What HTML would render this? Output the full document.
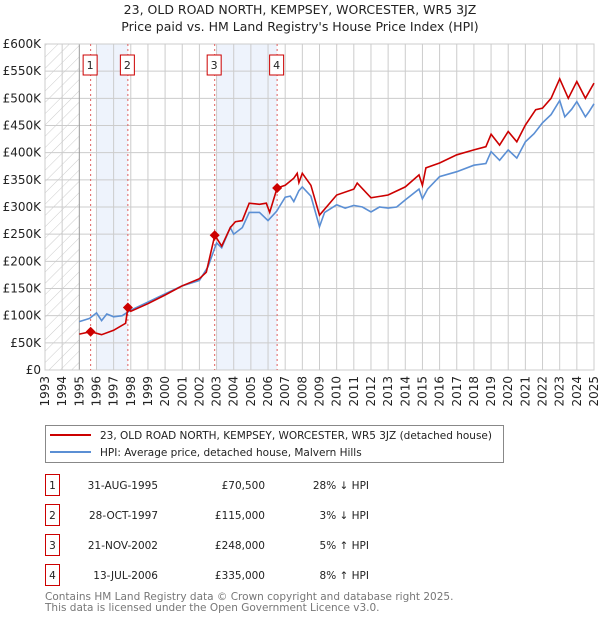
<!DOCTYPE html>
<html><head><meta charset="utf-8"><style>
body{margin:0;background:#fff;font-family:"DejaVu Sans","Liberation Sans",sans-serif;}
svg text{font-family:"DejaVu Sans","Liberation Sans",sans-serif;}
</style></head><body>
<svg id="c" width="600" height="620" xmlns="http://www.w3.org/2000/svg">
<defs><pattern id="hatch" width="8" height="8" patternUnits="userSpaceOnUse" patternTransform="rotate(45)"><line x1="0" y1="0" x2="0" y2="8" stroke="#ccc" stroke-width="1"/></pattern></defs>
<text x="300" y="14" text-anchor="middle" font-size="12.5" fill="#222">23, OLD ROAD NORTH, KEMPSEY, WORCESTER, WR5 3JZ</text>
<text x="300" y="31" text-anchor="middle" font-size="12.5" fill="#222">Price paid vs. HM Land Registry's House Price Index (HPI)</text>
<g id="plot"></g>
<g>
<rect x="45.5" y="425.5" width="458" height="37" fill="#fff" stroke="#888"/>
<line x1="50" y1="435" x2="91" y2="435" stroke="#cc0000" stroke-width="2"/>
<text x="100" y="439" font-size="10.5" fill="#222">23, OLD ROAD NORTH, KEMPSEY, WORCESTER, WR5 3JZ (detached house)</text>
<line x1="50" y1="452" x2="91" y2="452" stroke="#5b8fd4" stroke-width="2"/>
<text x="100" y="456" font-size="10.5" fill="#222">HPI: Average price, detached house, Malvern Hills</text>
</g>
<g id="table" font-size="10.5" fill="#222"></g>
<text x="45" y="600" font-size="10.5" fill="#777">Contains HM Land Registry data © Crown copyright and database right 2025.</text>
<text x="45" y="611" font-size="10.5" fill="#777">This data is licensed under the Open Government Licence v3.0.</text>
</svg>
<script>
const hpiYears=[1995,1995.6,1996,1996.3,1996.6,1997,1997.5,1998,1999,2000,2001,2002,2002.5,2003,2003.3,2003.8,2004,2004.5,2004.9,2005.5,2006,2006.5,2007,2007.3,2007.5,2007.8,2008,2008.5,2009,2009.3,2010,2010.5,2011,2011.5,2012,2012.5,2013,2013.5,2014,2014.8,2015,2015.3,2016,2017,2018,2018.7,2019,2019.5,2020,2020.5,2021,2021.5,2022,2022.5,2023,2023.3,2023.7,2024,2024.5,2024.7,2025];
const hpiValues=[89,95,105,91,103,98,100,110,125,140,155,165,190,234,225,262,250,262,290,290,275,292,318,320,310,330,337,320,264,290,304,298,303,300,291,300,298,300,313,333,315,333,356,365,377,380,402,386,405,390,420,435,455,470,496,466,480,494,466,475,490];
const propYears=[1995,1995.66,1996.3,1997,1997.7,1997.83,1998,1999,2000,2001,2002,2002.4,2002.9,2003.3,2003.8,2004.1,2004.5,2004.9,2005.5,2005.9,2006.1,2006.53,2007,2007.5,2007.7,2007.8,2008,2008.5,2009,2010,2011,2011.2,2012,2013,2014,2014.8,2015,2015.2,2016,2017,2018,2018.7,2019,2019.5,2020,2020.5,2021,2021.6,2022,2022.5,2023,2023.5,2024,2024.5,2025];
const propValues=[66,70.5,65,73,86,115,108,122,138,155,168,180,248,228,262,273,275,307,305,307,290,335,340,353,362,345,362,340,285,322,333,344,317,322,337,359,340,372,381,396,405,411,434,414,439,420,451,479,482,500,536,500,531,500,528];
const saleLabels=["1","2","3","4"];
const saleYears=[1995.66,1997.83,2002.89,2006.53];
const saleValues=[70.5,115,248,335];
const saleDates=["31-AUG-1995","28-OCT-1997","21-NOV-2002","13-JUL-2006"];
const salePrices=["£70,500","£115,000","£248,000","£335,000"];
const saleDiffs=["28% ↓ HPI","3% ↓ HPI","5% ↑ HPI","8% ↑ HPI"];
const yTicks=[0,50,100,150,200,250,300,350,400,450,500,550,600];
const xTicks=[1993,1994,1995,1996,1997,1998,1999,2000,2001,2002,2003,2004,2005,2006,2007,2008,2009,2010,2011,2012,2013,2014,2015,2016,2017,2018,2019,2020,2021,2022,2023,2024,2025];
const X0=45,X1=594,Y0=370,Y1=44;
const xs=y=>X0+(y-1993)/(2025-1993)*(X1-X0);
const ys=v=>Y0-v/600*(Y0-Y1);
const NS="http://www.w3.org/2000/svg";
const plot=document.getElementById('plot');
function mk(tag,attrs,parent){const e=document.createElementNS(NS,tag);for(const k in attrs)e.setAttribute(k,attrs[k]);(parent||plot).appendChild(e);return e;}
let e;
e=mk('rect',{x:xs(1996),y:Y1,width:xs(1997.83)-xs(1996),height:Y0-Y1,fill:'#eef3fc'});


e=mk('rect',{x:xs(2003),y:Y1,width:xs(2006.53)-xs(2003),height:Y0-Y1,fill:'#eef3fc'});


e=mk('rect',{x:X0,y:Y1,width:xs(1995)-X0,height:Y0-Y1,fill:'url(#hatch)'});


yTicks.forEach(v=>{
 const l=mk('line',{x1:X0,x2:X1,y1:ys(v),y2:ys(v),stroke:'#ccc'});
 
 
 const t=mk('text',{x:X0-4,y:ys(v)+4,'text-anchor':'end','font-size':'12',fill:'#222'});
 t.textContent=v===0?'£0':'£'+v+'K';
 
 
});
xTicks.forEach(y=>{
 const l=mk('line',{x1:xs(y),x2:xs(y),y1:Y1,y2:Y0,stroke:y===1995?'#999':'#ccc'});
 
 
 const t=mk('text',{x:0,y:0,'text-anchor':'end','font-size':'12',fill:'#222',transform:`translate(${xs(y)+4},${Y0+6}) rotate(-90)`});
 t.textContent=y;
 
 
});
e=mk('rect',{x:X0,y:Y1,width:X1-X0,height:Y0-Y1,fill:'none',stroke:'#ccc'});


saleYears.forEach((y,i)=>{
 const l=mk('line',{x1:xs(y),x2:xs(y),y1:Y1,y2:Y0,stroke:'#e06060','stroke-dasharray':'2,3'});
 
 
});
const pts=(a,b)=>a.map((y,i)=>xs(y).toFixed(1)+','+ys(b[i]).toFixed(1)).join(' ');
e=mk('polyline',{points:pts(hpiYears,hpiValues),fill:'none',stroke:'#5b8fd4','stroke-width':1.6});


e=mk('polyline',{points:pts(propYears,propValues),fill:'none',stroke:'#cc0000','stroke-width':1.6});


saleYears.forEach((y,i)=>{
 const cx=xs(y),cy=ys(saleValues[i]);
 const d=mk('polygon',{points:`${cx},${cy-5} ${cx+5},${cy} ${cx},${cy+5} ${cx-5},${cy}`,fill:'#cc0000'});
 
 
 const r=mk('rect',{x:cx-7.5,y:55,width:14,height:20,fill:'#fff',stroke:'#cc0000'});
 
 
 const t=mk('text',{x:cx-0.5,y:69,'text-anchor':'middle','font-size':'11',fill:'#222'});
 t.textContent=saleLabels[i];
 
 
});
const tb=document.getElementById('table');
const rowY=[485,515,545,575];
saleLabels.forEach((s,i)=>{
 const y=rowY[i];
 let r=mk('rect',{x:45.5,y:y-10.5,width:14,height:21,fill:'#fff',stroke:'#cc0000'},tb);
 
 
 let t=mk('text',{x:52.5,y:y+4,'text-anchor':'middle'},tb);t.textContent=s;
 
 
 t=mk('text',{x:158,y:y+4,'text-anchor':'end'},tb);t.textContent=saleDates[i];
 
 
 t=mk('text',{x:265,y:y+4,'text-anchor':'end'},tb);t.textContent=salePrices[i];
 
 
 t=mk('text',{x:369,y:y+4,'text-anchor':'end'},tb);t.textContent=saleDiffs[i];
 
 
});
</script>
</body></html>
